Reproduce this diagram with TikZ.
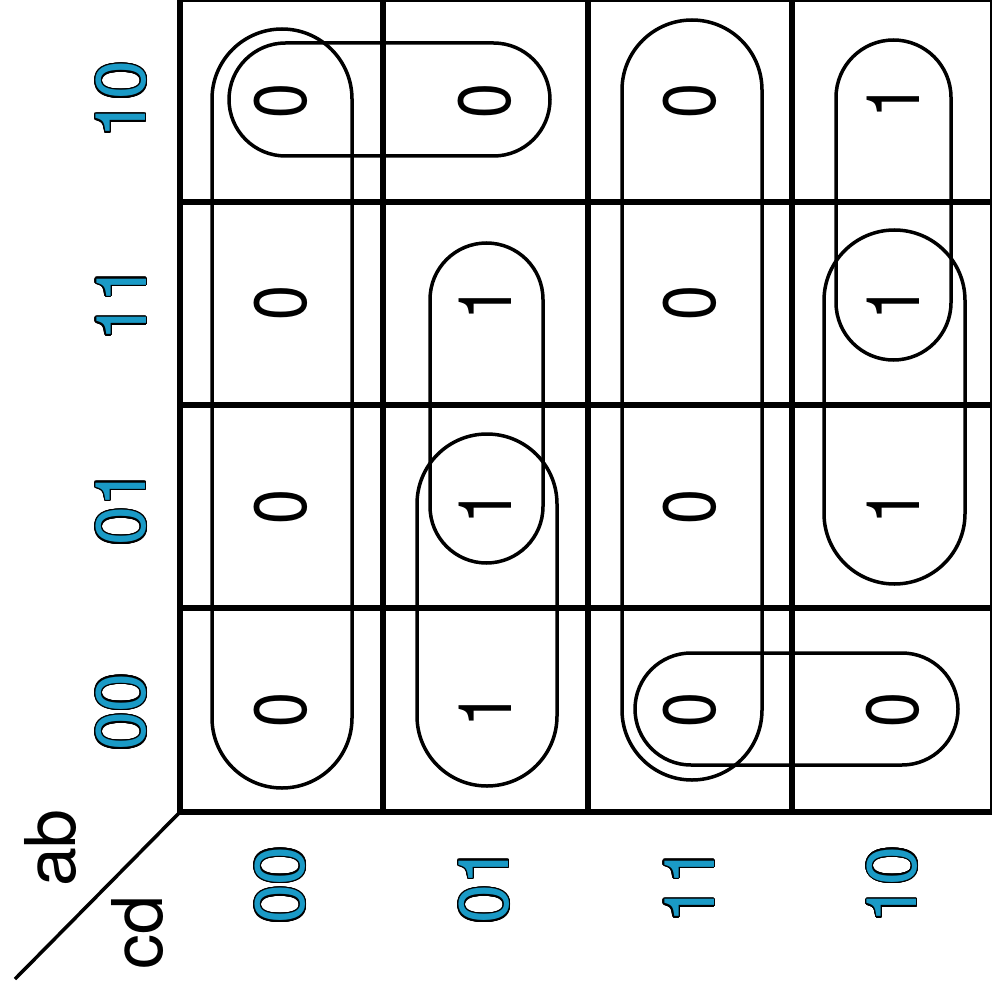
\documentclass[tikz,border=0pt]{standalone}
\usepackage{fontspec}
\setmainfont{TeX Gyre Heros}
\usepackage{contour}
\contourlength{1.3pt}
\contournumber{24}
\definecolor{labelblue}{HTML}{1A9AC6}
\tikzset{
  gridthick/.style={line width=5.5pt, line cap=rect},
  gridthin/.style={line width=1.5pt},
  loopline/.style={line width=3.5pt, rounded corners=#1},
  cellval/.style={rotate=90, inner sep=0pt, font=\fontsize{74}{84}\selectfont},
  axislabel/.style={rotate=90, inner sep=0pt, text=labelblue, font=\fontsize{70}{80}\selectfont},
  varlabel/.style={rotate=90, inner sep=0pt, font=\fontsize{70}{80}\selectfont},
}
\newcommand{\cv}[1]{\scalebox{0.85}[1]{#1}}
\newcommand{\al}[1]{\contour{black}{#1}}
\begin{document}
\begin{tikzpicture}[x=1pt,y=-1pt]
\useasboundingbox[fill=white] (0,0) rectangle (992,992);
% grid
\draw[gridthin] (180,1) -- (992,1);
\draw[gridthin] (991,0) -- (991,812);
\draw[gridthick] (180,0) -- (180,812) -- (992,812);
\foreach \x in {383,588,792} \draw[gridthick] (\x,0) -- (\x,812);
\foreach \y in {202,405,608} \draw[gridthick] (180,\y) -- (992,\y);
% corner diagonal
\coordinate (corner) at (180,812);
\coordinate (diagend) at (15,979);
\draw[line width=3.5pt] (corner) -- (diagend);
\node[varlabel] (ab) at (51,848) {ab};
\node[varlabel] (cd) at (138,933) {cd};
% row labels
\node[axislabel] (r10) at (122,100) {\al{10}};
\node[axislabel] (r11) at (122,303) {\al{11}};
\node[axislabel] (r01) at (122,507) {\al{01}};
\node[axislabel] (r00) at (122,712) {\al{00}};
% column labels
\node[axislabel] (c00) at (281,885) {\al{00}};
\node[axislabel] (c01) at (485,885) {\al{01}};
\node[axislabel] (c11) at (690,885) {\al{11}};
\node[axislabel] (c10) at (893,885) {\al{10}};
% cell values
\node[cellval] (v11) at (281,101) {\cv{0}};
\node[cellval] (v12) at (485,101) {\cv{0}};
\node[cellval] (v13) at (690,101) {\cv{0}};
\node[cellval] (v14) at (893,101) {\cv{1}};
\node[cellval] (v21) at (281,303) {\cv{0}};
\node[cellval] (v22) at (485,303) {\cv{1}};
\node[cellval] (v23) at (690,303) {\cv{0}};
\node[cellval] (v24) at (893,303) {\cv{1}};
\node[cellval] (v31) at (281,507) {\cv{0}};
\node[cellval] (v32) at (485,507) {\cv{1}};
\node[cellval] (v33) at (690,507) {\cv{0}};
\node[cellval] (v34) at (893,507) {\cv{1}};
\node[cellval] (v41) at (281,710) {\cv{0}};
\node[cellval] (v42) at (485,710) {\cv{1}};
\node[cellval] (v43) at (690,710) {\cv{0}};
\node[cellval] (v44) at (893,710) {\cv{0}};
% loops
\draw[loopline=70pt] (212,29) rectangle (352,788);
\draw[loopline=56.5pt] (229,43) rectangle (550,156);
\draw[loopline=70pt] (622,20) rectangle (762,780);
\draw[loopline=56pt] (635,653) rectangle (958,765);
\draw[loopline=57.5pt] (836,40) rectangle (951,360);
\draw[loopline=70.5pt] (824,230) rectangle (965,584);
\draw[loopline=56.5pt] (430,243) rectangle (543,563);
\draw[loopline=70pt] (417,434) rectangle (557,786);
\end{tikzpicture}
\end{document}
